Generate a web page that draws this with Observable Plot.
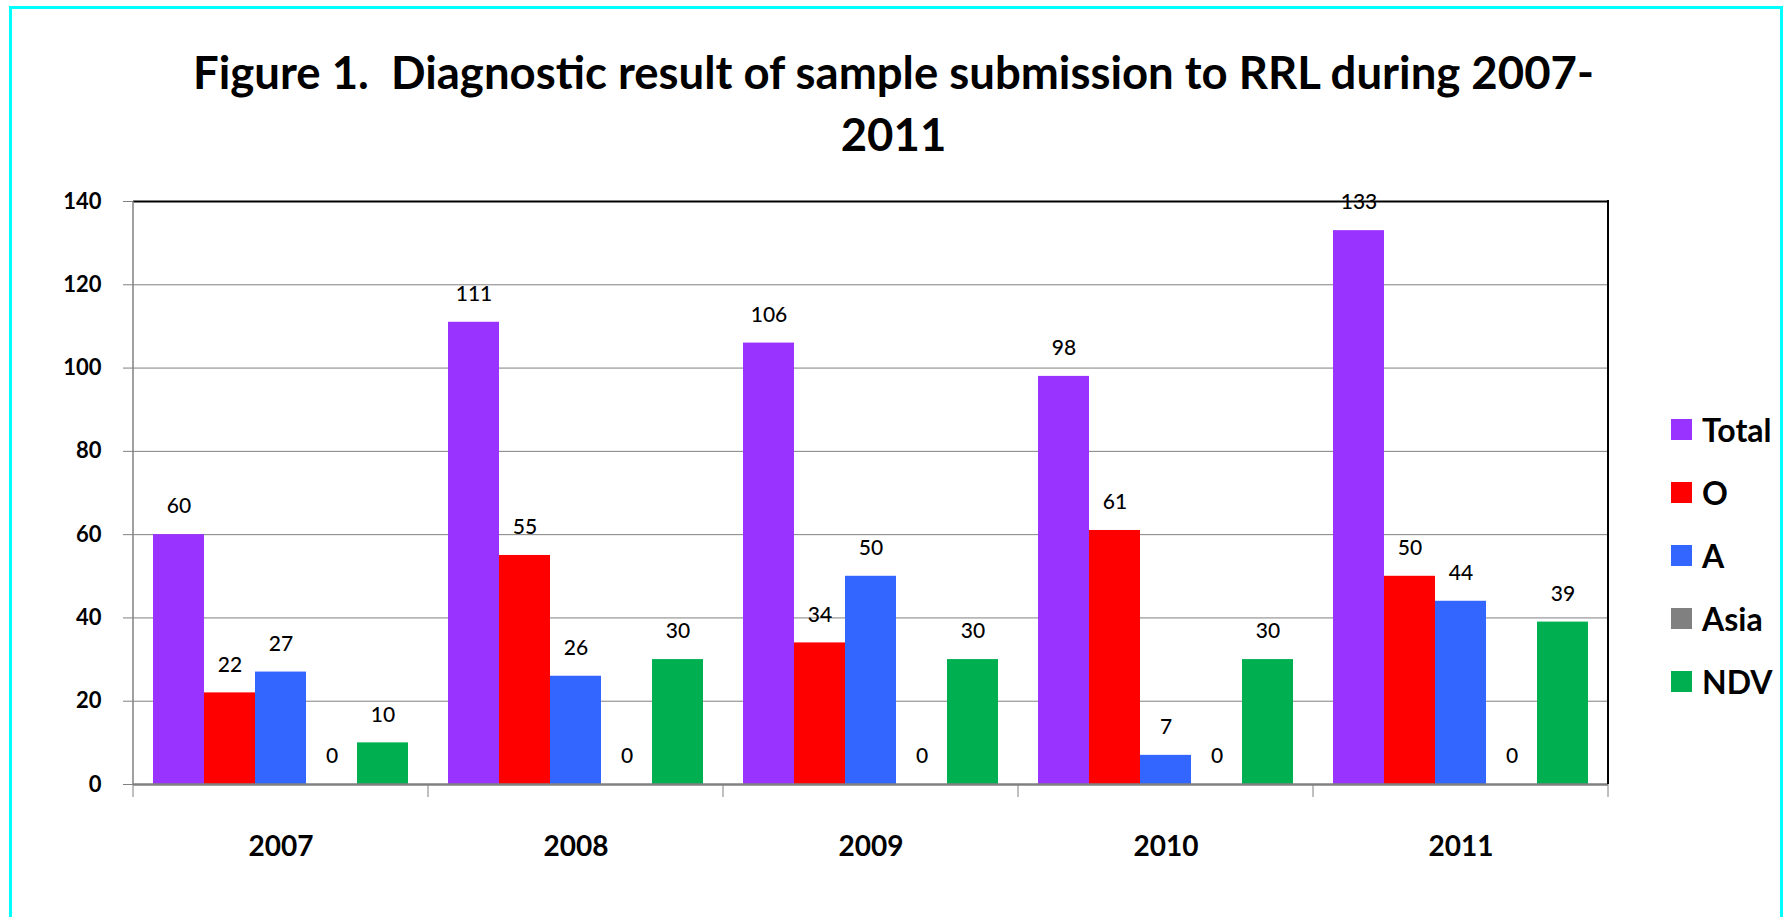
<!DOCTYPE html>
<html>
<head>
<meta charset="utf-8">
<script src="https://cdn.jsdelivr.net/npm/d3@7"></script>
<script src="https://cdn.jsdelivr.net/npm/@observablehq/plot@0.6"></script>
<style>
  html, body { margin: 0; padding: 0; background: #fff; }
  #page { position: relative; width: 1787px; height: 917px; overflow: hidden; background: #fff; font-family: Lato, "Open Sans", sans-serif; }
  .cyan { position: absolute; background: #00FFFF; }
  .title { position: absolute; left: 0; width: 1787px; text-align: center; font-weight: 700; font-size: 45.5px; line-height: 45px; color: #000; white-space: nowrap; }
  #chart { position: absolute; left: 0; top: 170px; }
  #legend { position: absolute; left: 1671px; top: 419px; }
  .item { display: flex; align-items: center; height: 21px; margin-bottom: 42px; }
  .sw { width: 21px; height: 21px; margin-right: 10px; }
  .lab { font-size: 32px; font-weight: 700; color: #000; line-height: 21px; }
</style>
</head>
<body>
<div id="page">
  <div class="cyan" style="left:9px; top:6px; width:1774px; height:3px;"></div>
  <div class="cyan" style="left:9px; top:6px; width:3px; height:911px;"></div>
  <div class="cyan" style="left:1780px; top:6px; width:3px; height:911px;"></div>
  <div class="title" style="top:49px;">Figure 1.&nbsp; Diagnostic result of sample submission to RRL during 2007-</div>
  <div class="title" style="top:111px;">2011</div>
  <div id="chart"></div>
  <div id="legend"></div>
</div>
<script>
const years = ["2007", "2008", "2009", "2010", "2011"];
const seriesNames = ["Total", "O", "A", "Asia", "NDV"];
const totalValues = [60, 111, 106, 98, 133];
const oValues = [22, 55, 34, 61, 50];
const aValues = [27, 26, 50, 7, 44];
const asiaValues = [0, 0, 0, 0, 0];
const ndvValues = [10, 30, 30, 30, 39];
const seriesColors = ["#9933FF", "#FF0000", "#3366FF", "#808080", "#00B050"];
const yTicks = [0, 20, 40, 60, 80, 100, 120, 140];

const valuesBySeries = [totalValues, oValues, aValues, asiaValues, ndvValues];
const rows = [];
years.forEach((yr, i) => {
  seriesNames.forEach((s, j) => {
    rows.push({year: yr, series: s, value: valuesBySeries[j][i]});
  });
});

const frameMark = Plot.frame({
  facet: "super",
  stroke: "none",
  render: (index, scales, values, dims) => {
    const g = d3.create("svg:g");
    const top = dims.marginTop;
    const bottom = dims.height - dims.marginBottom;
    const left = dims.marginLeft;
    const right = dims.width - dims.marginRight;
    const xs = [];
    if (scales.fx) years.forEach(y => xs.push(scales.fx(y)));
    else xs.push(left);
    xs.push(right);
    g.selectAll("line.t").data(xs).join("line")
      .attr("x1", d => d).attr("x2", d => d)
      .attr("y1", bottom).attr("y2", bottom + 13)
      .attr("stroke", "#808080").attr("stroke-width", 1);
    g.append("line").attr("x1", left).attr("x2", left).attr("y1", top).attr("y2", bottom)
      .attr("stroke", "#808080").attr("stroke-width", 1.5);
    g.append("line").attr("x1", right).attr("x2", right).attr("y1", top - 1).attr("y2", bottom)
      .attr("stroke", "#000").attr("stroke-width", 2);
    return g.node();
  }
});

const chart = Plot.plot({
  width: 1787,
  height: 747,
  marginTop: 31,
  marginBottom: 133,
  marginLeft: 132,
  marginRight: 178,
  style: {fontFamily: "Lato, 'Open Sans', sans-serif", background: "transparent", color: "#000"},
  fx: {domain: years, padding: 0, label: null},
  x: {domain: seriesNames, paddingInner: 0, paddingOuter: 0.36, axis: null},
  y: {domain: [0, 140], ticks: yTicks, label: null},
  color: {domain: seriesNames, range: seriesColors},
  marks: [
    Plot.ruleY(yTicks.filter(t => t > 0 && t < 140), {stroke: "#808080", strokeWidth: 1}),
    Plot.barY(rows, {fx: "year", x: "series", y: "value", fill: "series"}),
    Plot.ruleY([140], {stroke: "#000", strokeWidth: 2}),
    Plot.text(rows, {fx: "year", x: "series", y: "value", text: d => String(d.value), dy: -28, fontSize: 21, fontWeight: 500, fill: "#000"}),
    Plot.ruleY([0], {stroke: "#808080", strokeWidth: 2.5}),
    Plot.axisY({ticks: yTicks, tickSize: 10, tickPadding: 22, fontSize: 22, fontWeight: 700, stroke: "#808080", color: "#000", label: null}),
    Plot.axisFx({anchor: "bottom", tickSize: 0, tickPadding: 52, fontSize: 28, fontWeight: 700, label: null}),
    frameMark
  ]
});
document.getElementById("chart").appendChild(chart);

const legend = document.getElementById("legend");
seriesNames.forEach((s, i) => {
  const item = document.createElement("div");
  item.className = "item";
  const sw = document.createElement("div");
  sw.className = "sw";
  sw.style.background = seriesColors[i];
  const lab = document.createElement("div");
  lab.className = "lab";
  lab.textContent = s;
  item.appendChild(sw);
  item.appendChild(lab);
  legend.appendChild(item);
});
</script>
</body>
</html>
